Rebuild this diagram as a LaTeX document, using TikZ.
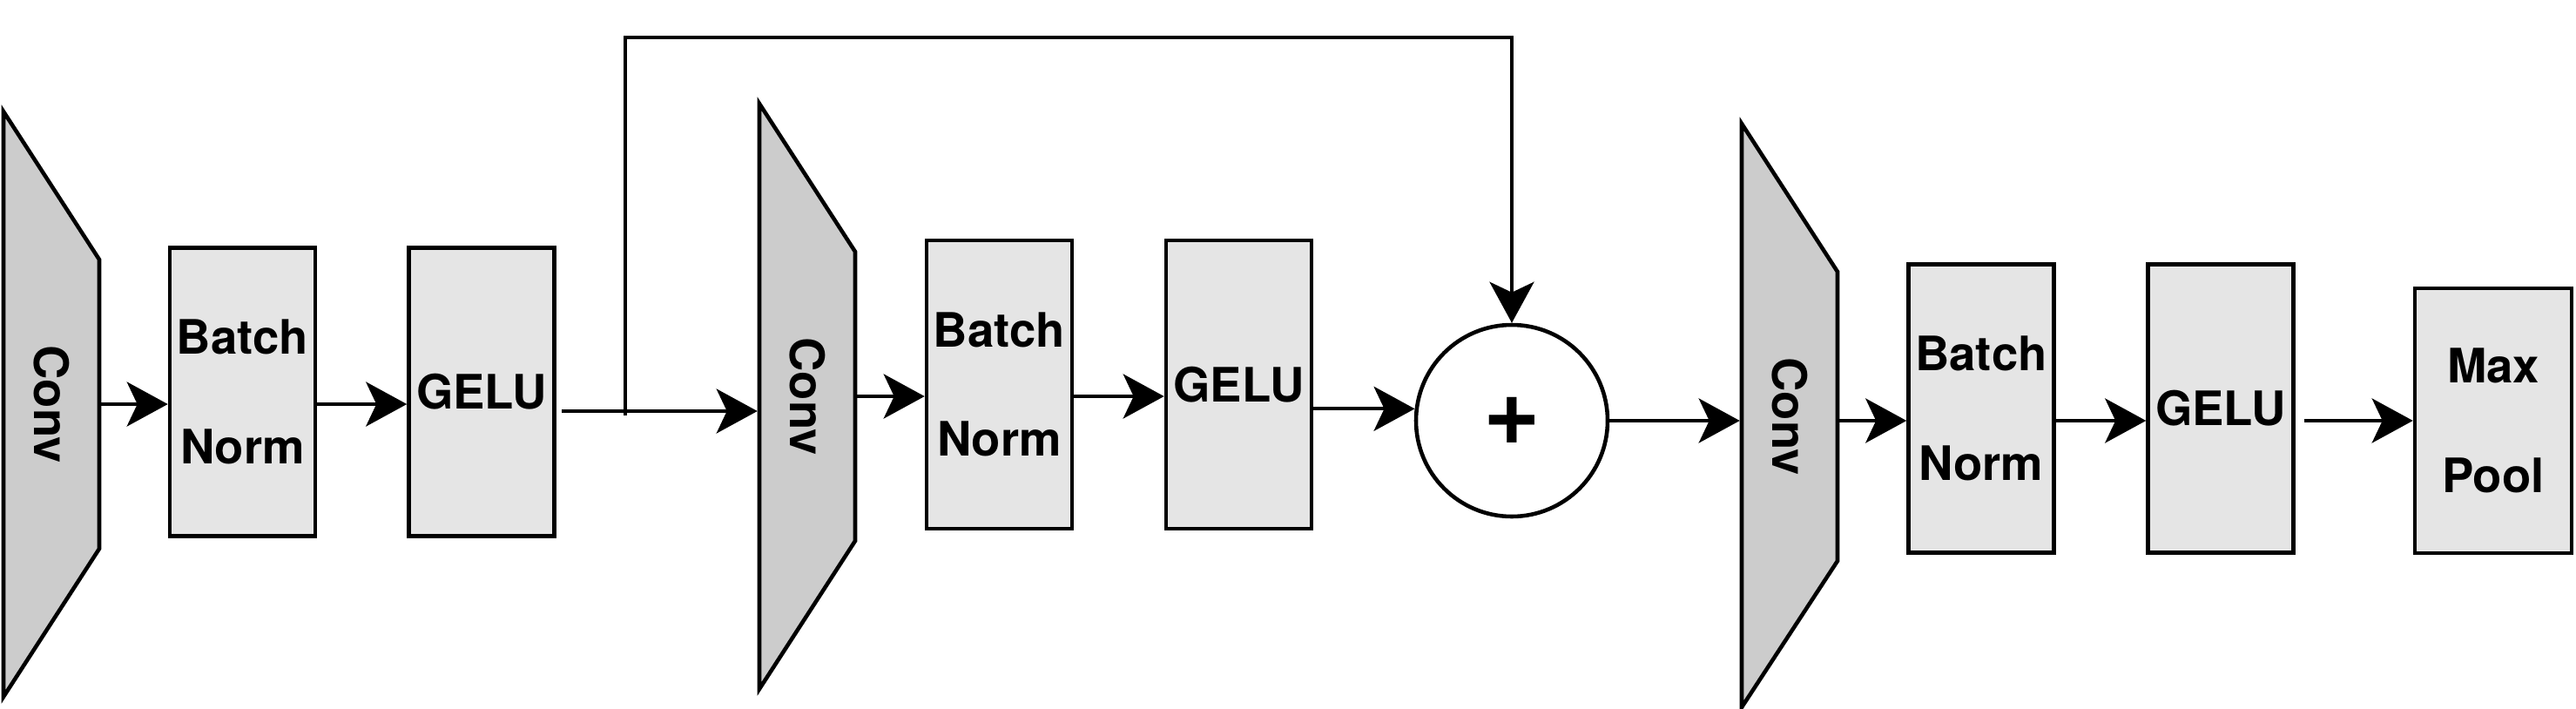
\documentclass[tikz,border=0pt]{standalone}
\usepackage{fontspec}
\setmainfont{TeX Gyre Heros}
\usetikzlibrary{arrows.meta, positioning}

\begin{document}
\begin{tikzpicture}[>={Stealth[length=4.7mm, width=5.1mm, inset=1.2mm]}, line width=1.3pt,
    font=\fontsize{15.5}{35.7}\selectfont\bfseries,
    layer/.style={draw, fill=gray!20, minimum width=1.67cm, minimum height=3.31cm, align=center, inner sep=0pt},
    convshape/.style={draw, fill=gray!40},
    convlbl/.style={minimum width=1.1cm, minimum height=3.3cm, inner sep=0pt},
    sumnode/.style={draw, circle, fill=white, minimum size=2.2cm, inner sep=0pt, font=\fontsize{32}{32}\selectfont\bfseries},
    flow/.style={->, line width=1.15pt}]
    \useasboundingbox (0,0) rectangle (29.58,8.13);

    % conv blocks
    \draw[convshape] (0.04,6.85) -- (1.14,5.15) -- (1.14,1.83) -- (0.04,0.13) -- cycle;
    \draw[convshape] (8.72,6.94) -- (9.82,5.24) -- (9.82,1.92) -- (8.72,0.22) -- cycle;
    \draw[convshape] (20.0,6.71) -- (21.1,5.01) -- (21.1,1.69) -- (20.0,0.01) -- cycle;
    \node[convlbl] (conv1) at (0.59,3.49) {\rotatebox{-90}{Conv}};
    \node[convlbl] (conv2) at (9.27,3.58) {\rotatebox{-90}{Conv}};
    \node[convlbl] (conv3) at (20.55,3.35) {\rotatebox{-90}{Conv}};

    \node[layer] (bn1) at (2.785,3.63) {Batch\\Norm};
    \node[layer] (gelu1) at (5.53,3.63) {GELU};
    \node[layer] (bn2) at (11.475,3.715) {Batch\\Norm};
    \node[layer] (gelu2) at (14.225,3.715) {GELU};
    \node[sumnode] (plus) at (17.36,3.30) {+};
    \node[layer] (bn3) at (22.75,3.44) {Batch\\Norm};
    \node[layer] (gelu3) at (25.50,3.44) {GELU};
    \node[layer, minimum width=1.8cm, minimum height=3.04cm] (pool) at (28.63,3.30) {Max\\Pool};

    \coordinate (split) at (7.18,3.41);
    \coordinate (loop) at (7.18,7.70);

    \draw[flow] (conv1.east) -- (conv1.east -| bn1.west);
    \draw[flow] (bn1.east |- conv1) -- (gelu1.west |- conv1);
    \draw[flow, -] ([xshift=0.6mm]gelu1.east |- split) -- (split);
    \draw[flow] (split) -- (conv2.west |- split);
    % skip connection
    \draw[flow] ([yshift=-0.5mm]split) -- (loop) -| (plus.north);
    \draw[flow] (conv2.east) -- (conv2.east -| bn2.west);
    \draw[flow] (bn2.east |- conv2) -- (gelu2.west |- conv2);
    \draw[flow] (gelu2.east |- plus.173) -- (plus.173);
    \draw[flow] (plus.east) -- (plus.east -| conv3.west);
    \draw[flow] (conv3.east |- plus) -- (bn3.west |- plus);
    \draw[flow] (bn3.east |- plus) -- (gelu3.west |- plus);
    \draw[flow] ([xshift=1mm]gelu3.east |- pool.west) -- (pool.west);
\end{tikzpicture}
\end{document}
